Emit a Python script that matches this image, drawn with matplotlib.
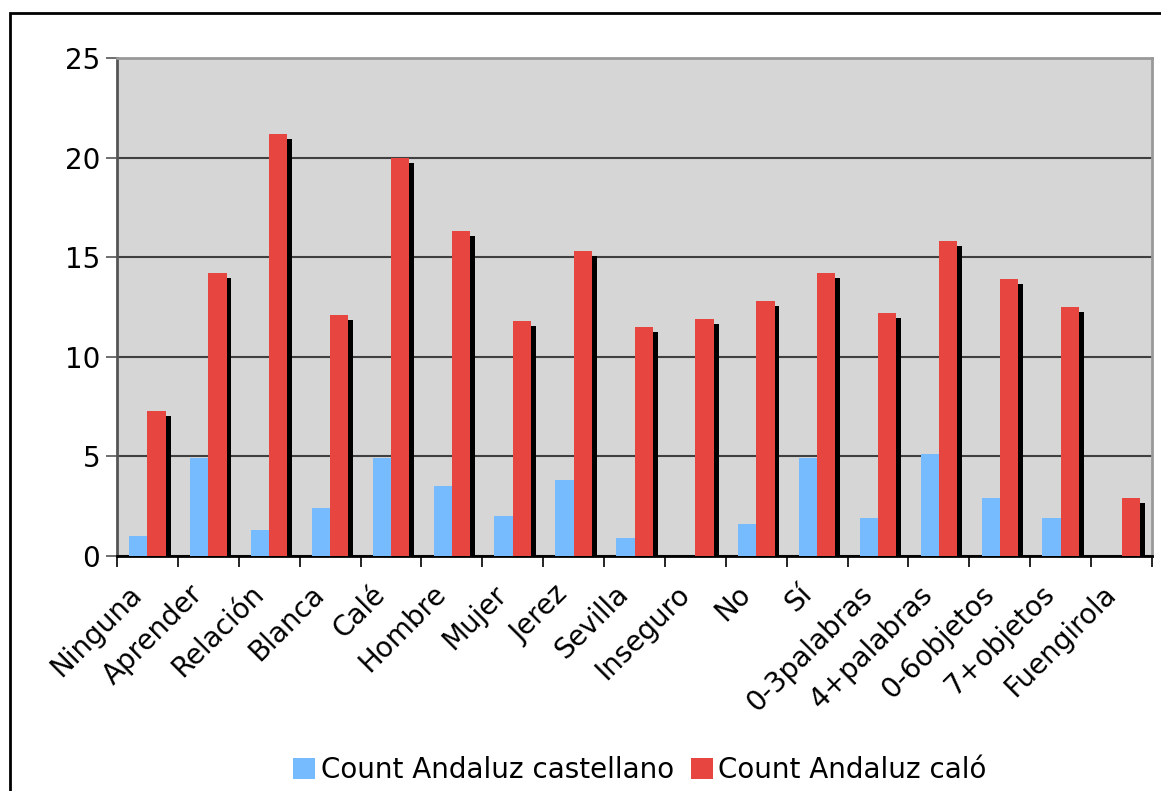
import matplotlib.pyplot as plt
import matplotlib.patches as patches
import matplotlib.transforms as mtransforms
import numpy as np

categories = ['Ninguna', 'Aprender', 'Relación', 'Blanca', 'Calé', 'Hombre', 'Mujer',
              'Jerez', 'Sevilla', 'Inseguro', 'No', 'Sí', '0-3palabras', '4+palabras',
              '0-6objetos', '7+objetos', 'Fuengirola']
castellano = [1.0, 4.9, 1.3, 2.4, 4.9, 3.5, 2.0, 3.8, 0.9, 0.0, 1.6, 4.9, 1.9, 5.1, 2.9, 1.9, 0.0]
calo = [7.3, 14.2, 21.2, 12.1, 20.0, 16.3, 11.8, 15.3, 11.5, 11.9, 12.8, 14.2, 12.2, 15.8, 13.9, 12.5, 2.9]

blue = '#77bbff'
red = '#e64540'

W, H = 1161, 791
fig = plt.figure(figsize=(W / 100, H / 100), dpi=100)
ax = fig.add_axes([117 / W, 1 - 556 / H, (1152 - 117) / W, (556 - 58) / H])
ax.set_facecolor('#d6d6d6')

# rahmen um die ganze grafik
fig.patches.append(patches.Rectangle((10 / W, -0.1), 2, 1 - 13 / H + 0.1,
                                     transform=fig.transFigure, fill=False,
                                     lw=2, ec='black'))

x = np.arange(len(categories))
bw = 0.3
ax.bar(x - bw / 2, castellano, bw, color=blue, zorder=3, label='Count Andaluz castellano')
# schatten hinter den roten balken
shadow = [max(v - 0.25, 0) for v in calo]
ax.bar(x + bw / 2 + 0.08, shadow, bw, color='black', zorder=2)
ax.bar(x + bw / 2, calo, bw, color=red, zorder=3, label='Count Andaluz caló')

ax.set_xlim(-0.5, len(categories) - 0.5)
ax.set_ylim(0, 25)
ax.set_yticks([0, 5, 10, 15, 20, 25])
ax.yaxis.grid(True, color='#404040', lw=1.5, zorder=1)
ax.set_axisbelow(True)

fs = 20
ax.set_xticks(x)
ax.set_xticklabels(categories, rotation=45, ha='right', rotation_mode='anchor', fontsize=fs)
ax.set_xticks(np.arange(len(categories) + 1) - 0.5, minor=True)
ax.tick_params(axis='x', which='major', length=0, pad=10)
ax.tick_params(axis='x', which='minor', length=8, width=1.2, color='black', direction='out')
ax.tick_params(axis='y', labelsize=fs, length=8, width=1.2, color='#555555', pad=4)

# beschriftungen etwas nach links unten schieben
off = mtransforms.ScaledTranslation(-0.2, -0.1, fig.dpi_scale_trans)
for lab in ax.get_xticklabels():
    lab.set_transform(lab.get_transform() + off)

for s in ['top', 'right']:
    ax.spines[s].set_color('#999999')
    ax.spines[s].set_linewidth(2)
ax.spines['left'].set_color('#555555')
ax.spines['left'].set_linewidth(2)
ax.spines['bottom'].set_color('black')
ax.spines['bottom'].set_linewidth(2)

fig.legend(loc='center', bbox_to_anchor=(640 / W, 1 - 770 / H), ncol=2, frameon=False,
           fontsize=fs, handlelength=0.8, handleheight=0.8, handletextpad=0.2,
           columnspacing=0.6)

fig.savefig('out.png', dpi=100)
